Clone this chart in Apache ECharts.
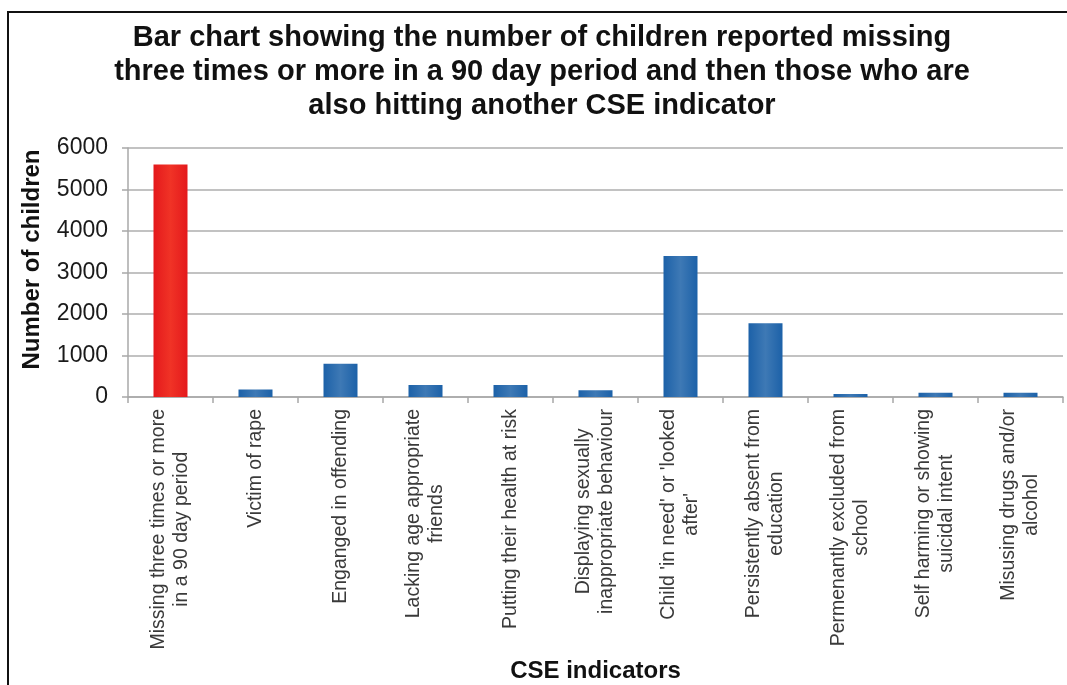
<!DOCTYPE html>
<html>
<head>
<meta charset="utf-8">
<script src="https://cdn.jsdelivr.net/npm/echarts@6/dist/echarts.min.js"></script>
<style>
html,body{margin:0;padding:0;background:#fff;}
#chart{width:1067px;height:685px;}
</style>
</head>
<body>
<div id="chart"></div>
<script>
const categories = [
  "Missing three times or more\nin a 90 day period",
  "Victim of rape",
  "Enganged in offending",
  "Lacking age appropriate\nfriends",
  "Putting their health at risk",
  "Displaying sexually\ninappropriate behaviour",
  "Child 'in need' or 'looked\nafter'",
  "Persistently absent from\neducation",
  "Permenantly excluded from\nschool",
  "Self harming or showing\nsuicidal intent",
  "Misusing drugs and/or\nalcohol"
];
const counts = [5600, 180, 800, 290, 290, 160, 3400, 1780, 70, 100, 100];
const yTicks = { min: 0, max: 6000, interval: 1000 };
const titleText = "Bar chart showing the number of children reported missing\nthree times or more in a 90 day period and then those who are\nalso hitting another CSE indicator";

const FONT = "'Liberation Sans', Arial, sans-serif";
const redFill = new echarts.graphic.LinearGradient(0, 0, 1, 0, [
  {offset: 0, color: '#e4191c'}, {offset: 0.5, color: '#f03326'}, {offset: 1, color: '#e4191c'}
]);
const blueFill = new echarts.graphic.LinearGradient(0, 0, 1, 0, [
  {offset: 0, color: '#1c61a8'}, {offset: 0.5, color: '#3e79b5'}, {offset: 1, color: '#1c61a8'}
]);

const chart = echarts.init(document.getElementById('chart'), null, {renderer: 'canvas'});
chart.setOption({
  animation: false,
  backgroundColor: '#ffffff',
  textStyle: { fontFamily: FONT },
  title: {
    text: titleText,
    left: 537,
    top: 16,
    textAlign: 'center',
    textStyle: { fontFamily: FONT, fontSize: 29, fontWeight: 'bold', color: '#111', lineHeight: 34 }
  },
  graphic: [{
    type: 'rect',
    shape: { x: 8, y: 12, width: 1100, height: 720 },
    style: { fill: 'none', stroke: '#111', lineWidth: 2 },
    silent: true, z: 100
  }],
  grid: { left: 128, right: 4, top: 148, bottom: 288, containLabel: false },
  xAxis: {
    type: 'category',
    data: categories,
    name: 'CSE indicators',
    nameLocation: 'middle',
    nameGap: 262,
    nameTextStyle: { fontFamily: FONT, fontSize: 24, fontWeight: 'bold', color: '#111' },
    axisLine: { show: true, lineStyle: { color: '#a8a8a8', width: 1.5 } },
    axisTick: { show: true, alignWithLabel: false, length: 6, lineStyle: { color: '#a8a8a8', width: 1.5 } },
    axisLabel: {
      interval: 0,
      rotate: 90,
      margin: 12,
      formatter: function (v) { return v.split('\n').map(l => '{c|' + l + '}').join('\n'); },
      rich: { c: { align: 'center', fontFamily: FONT, fontSize: 19.5, lineHeight: 23, color: '#3a3a3a' } }
    }
  },
  yAxis: {
    type: 'value',
    min: yTicks.min, max: yTicks.max, interval: yTicks.interval,
    name: 'Number of children',
    nameLocation: 'middle',
    nameGap: 84,
    nameTextStyle: { fontFamily: FONT, fontSize: 24, fontWeight: 'bold', color: '#111', padding: [0, 0, 0, 26] },
    axisLine: { show: true, lineStyle: { color: '#a8a8a8', width: 1.5 } },
    axisTick: { show: true, length: 6, lineStyle: { color: '#a8a8a8', width: 1.5 } },
    axisLabel: { margin: 20, fontFamily: FONT, fontSize: 23, color: '#1a1a1a', formatter: function (v) { return String(v); } },
    splitLine: { show: true, lineStyle: { color: '#c2c2c2', width: 2 } }
  },
  series: [{
    type: 'bar',
    data: counts,
    barWidth: 34,
    itemStyle: {
      color: function (p) { return p.dataIndex === 0 ? redFill : blueFill; }
    }
  }]
});
</script>
</body>
</html>
